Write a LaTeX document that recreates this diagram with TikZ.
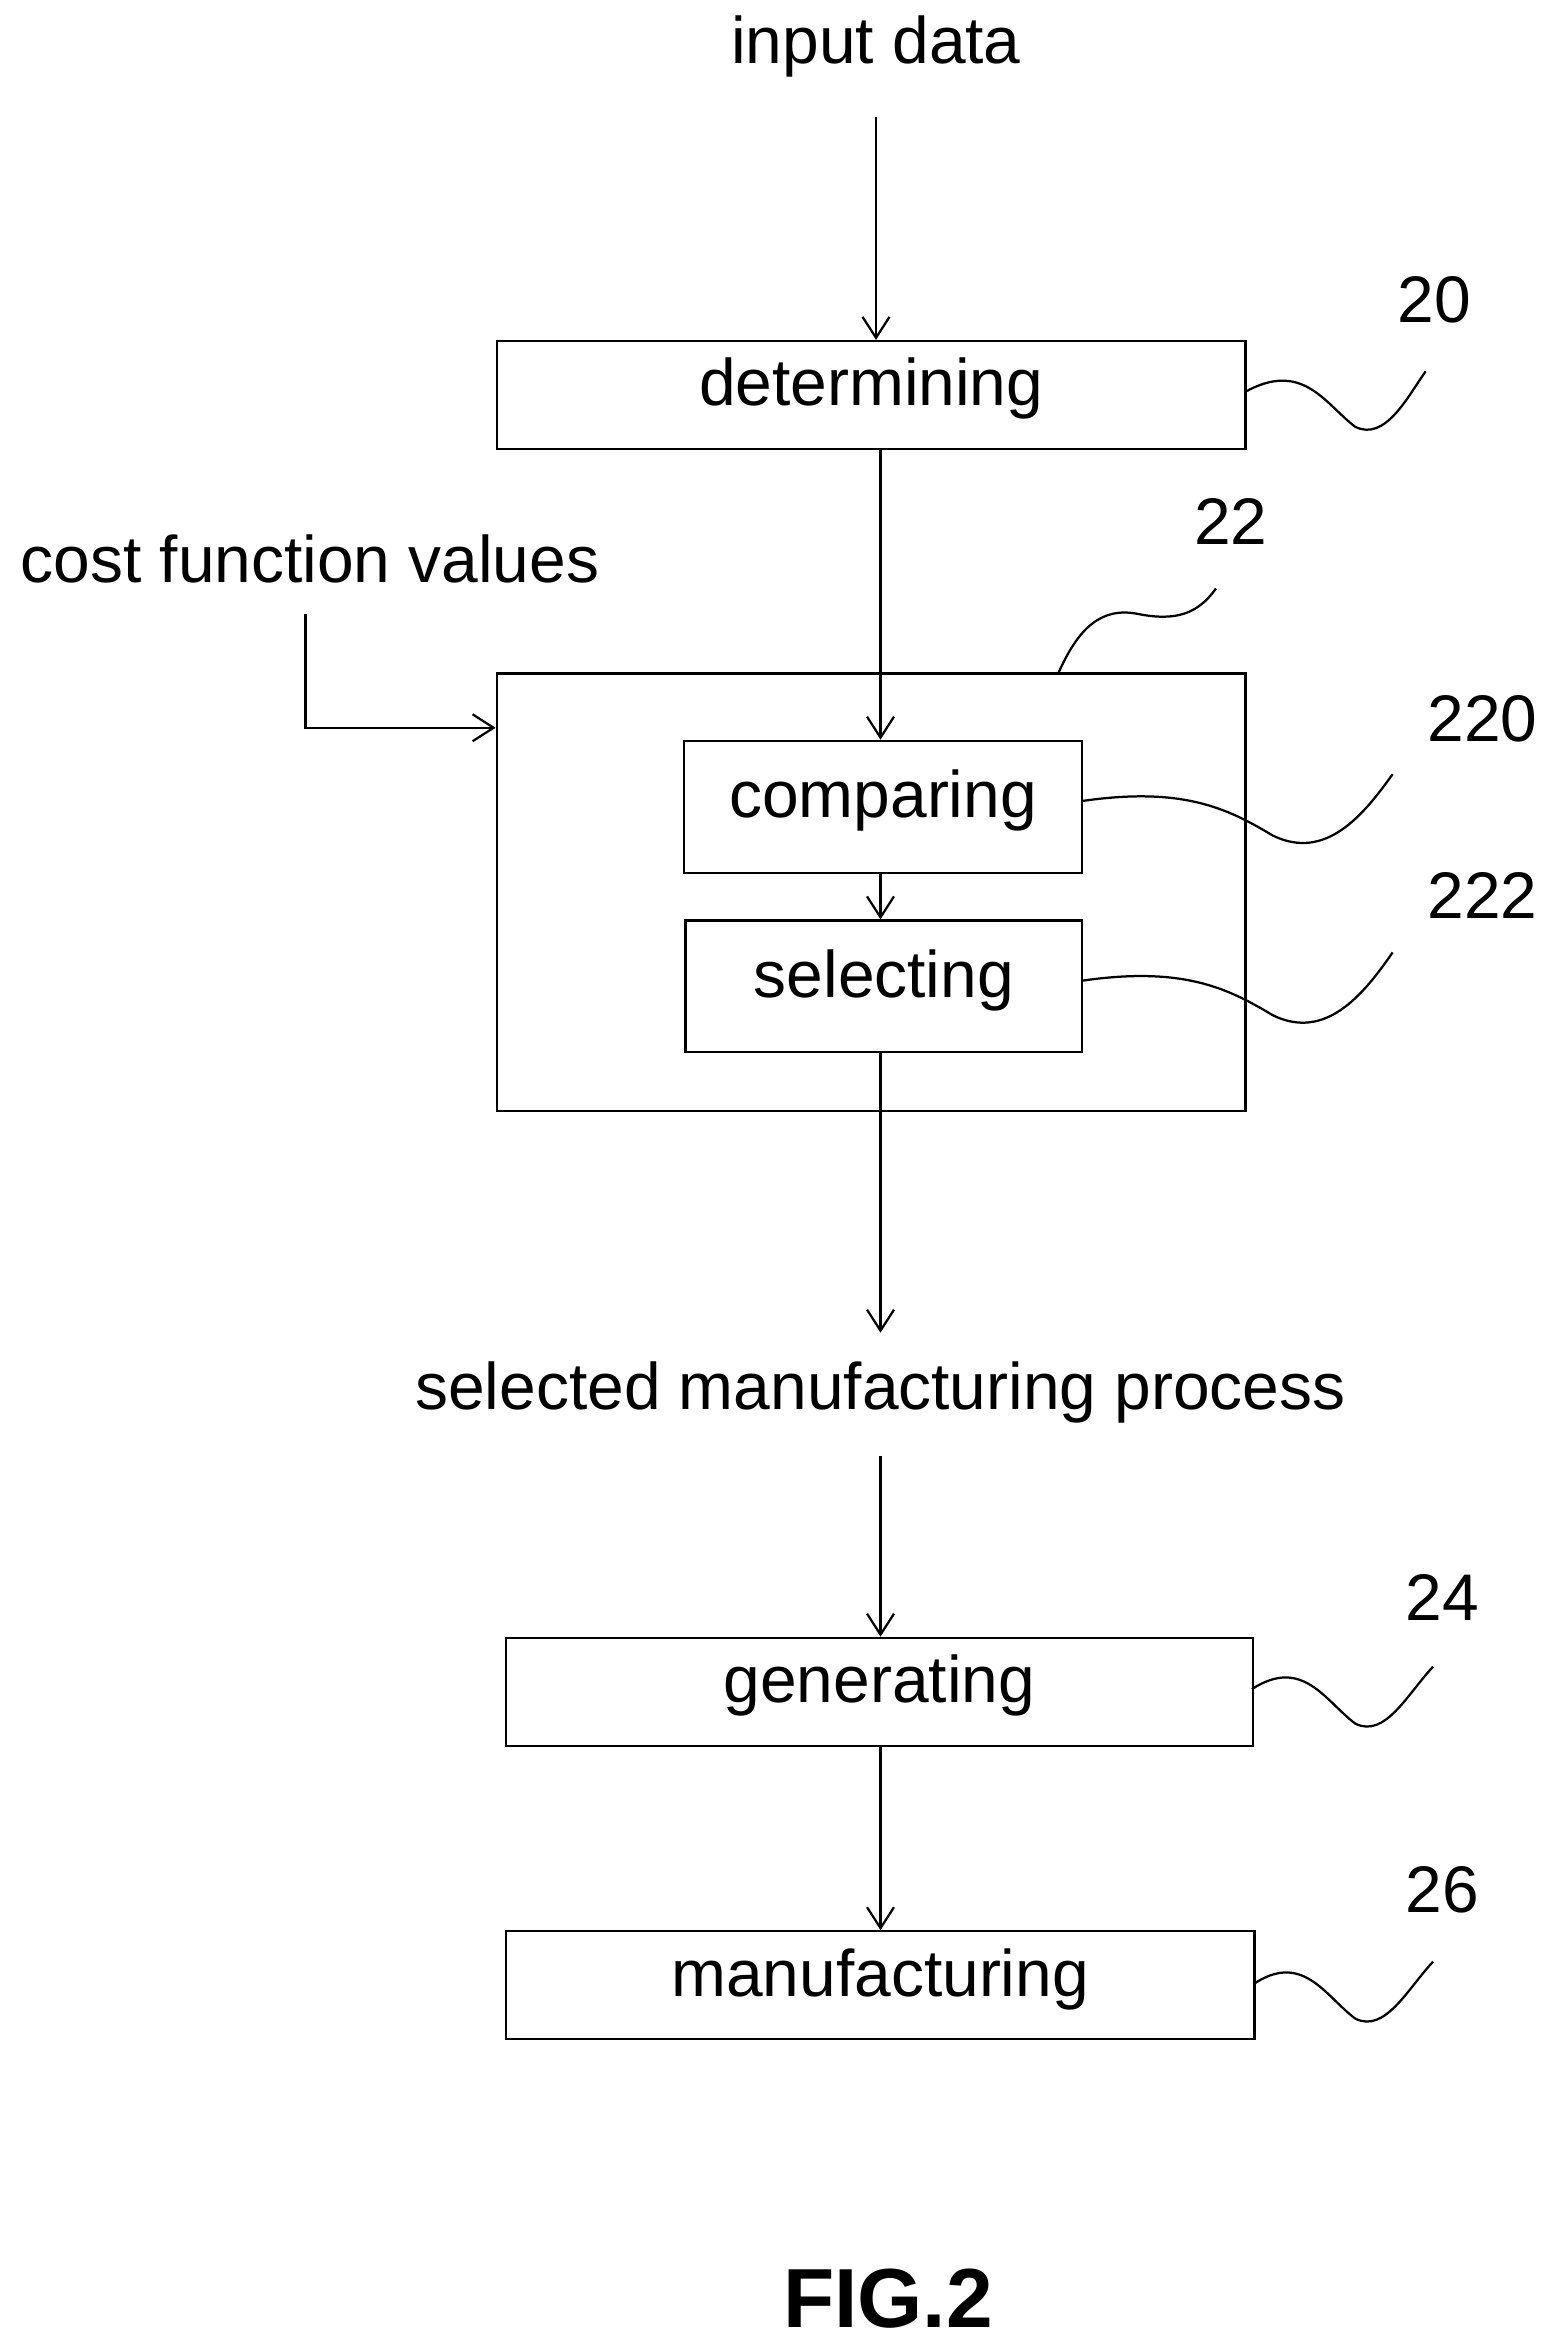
\documentclass[tikz,border=0pt]{standalone}
\usepackage{fontspec}
\setmainfont{Liberation Sans}
\usetikzlibrary{arrows.meta}
\begin{document}
\begin{tikzpicture}[x=0.5pt,y=-0.5pt,line width=0.75pt,
  box/.style={draw,rectangle,inner sep=0pt,anchor=north west},
  lbl/.style={font=\fontsize{22}{26}\selectfont},
  arr/.style={-{Straight Barb[length=7pt,width=9pt]}}]
\useasboundingbox (0,0) rectangle (1040,1568);
\node[lbl] (in) at (585,31) {input data};
\node[box,minimum width=250pt,minimum height=36pt,lbl] (det) at (331,227) {};
\node[lbl] at ([yshift=2pt]det.center) {determining};
\node[box,minimum width=250pt,minimum height=146pt] (b22) at (331,449) {};
\node[box,minimum width=133pt,minimum height=44pt] (cmp) at (456,494) {};
\node[lbl] at ([yshift=2pt]cmp.center) {comparing};
\node[box,minimum width=132.5pt,minimum height=44pt] (sel) at (457,614) {};
\node[lbl] at ([yshift=2pt]sel.center) {selecting};
\node[lbl] (cfv) at (207,373) {cost function values};
\node[lbl] (smp) at (588,930) {selected manufacturing process};
\node[box,minimum width=249.5pt,minimum height=36pt] (gen) at (337,1093) {};
\node[lbl] at ([yshift=2pt]gen.center) {generating};
\node[box,minimum width=250pt,minimum height=36pt] (man) at (337,1289) {};
\node[lbl] at ([yshift=2pt]man.center) {manufacturing};
\node[font=\fontsize{28}{34}\selectfont\bfseries] (fig) at (593,1535) {FIG.2};
\node[lbl] (l20) at (958,200) {20};
\node[lbl] (l22) at (822,348) {22};
\node[lbl] (l220) at (990,480) {220};
\node[lbl] (l222) at (990,598) {222};
\node[lbl] (l24) at (963,1067) {24};
\node[lbl] (l26) at (963,1262) {26};
\coordinate (c1) at (204,410);
\draw[arr] (585,78) -- (det.north -| 585,0);
\draw[arr] (det.south -| 588,0) -- (cmp.north -| 588,0);
\draw[arr] (c1) |- (b22.west |- 0,486);
\draw[arr] (cmp.south -| 588,0) -- (sel.north -| 588,0);
\draw[arr] (sel.south -| 588,0) -- (588,890);
\draw[arr] (588,972) -- (gen.north -| 588,0);
\draw[arr] (gen.south -| 588,0) -- (man.north -| 588,0);
\foreach \sx/\y/\ex/\ey in {831/262/952/248, 836/1128/957/1113, 837/1325/957/1310}{
  \draw (\sx,\y) .. controls (870,\y-22) and (885,\y+8) .. (905,\y+23)
    .. controls (925,\y+33) and (940,\y+3) .. (\ex,\ey);}
\draw (707,449) .. controls (720,420) and (735,405) .. (760,410)
  .. controls (785,415) and (800,410) .. (812,393);
\draw (722,535) .. controls (790,525) and (820,540) .. (850,558)
  .. controls (885,575) and (910,545) .. (930,517);
\draw (722,655) .. controls (790,645) and (820,660) .. (850,678)
  .. controls (885,695) and (910,665) .. (930,636);
\end{tikzpicture}
\end{document}
